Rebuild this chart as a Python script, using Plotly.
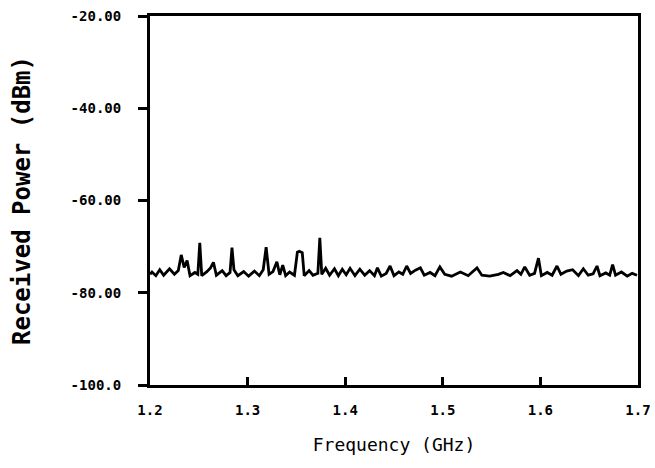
import plotly.graph_objects as go

# Frequency (GHz) and received power (dBm)
freq_ghz = [
    1.200, 1.202, 1.206, 1.210, 1.214, 1.220, 1.225, 1.229, 1.232, 1.235, 1.238, 1.241,
    1.246, 1.249, 1.251, 1.253, 1.258, 1.262, 1.265, 1.268, 1.274, 1.278, 1.282, 1.284,
    1.286, 1.290, 1.296, 1.301, 1.307, 1.312, 1.316, 1.319, 1.322, 1.326, 1.330, 1.333,
    1.336, 1.339, 1.343, 1.348, 1.351, 1.353, 1.356, 1.358, 1.363, 1.367, 1.372, 1.374,
    1.376, 1.380, 1.384, 1.389, 1.393, 1.397, 1.401, 1.405, 1.410, 1.415, 1.420, 1.425,
    1.430, 1.433, 1.437, 1.442, 1.446, 1.450, 1.455, 1.459, 1.463, 1.467, 1.472, 1.477,
    1.481, 1.487, 1.492, 1.497, 1.502, 1.509, 1.518, 1.526, 1.535, 1.540, 1.548, 1.557,
    1.562, 1.569, 1.576, 1.580, 1.584, 1.589, 1.594, 1.598, 1.601, 1.607, 1.612, 1.617,
    1.621, 1.627, 1.633, 1.639, 1.644, 1.649, 1.654, 1.658, 1.661, 1.667, 1.671, 1.674,
    1.677, 1.683, 1.689, 1.694, 1.699,
]
power_dbm = [
    -76.0, -75.5, -76.3, -75.0, -76.2, -74.8, -76.0, -75.2, -71.8, -74.5, -73.0, -76.3,
    -75.6, -76.0, -69.2, -76.3, -75.5, -74.6, -73.4, -76.2, -75.2, -76.3, -75.6, -70.2,
    -75.0, -76.3, -75.4, -76.4, -75.3, -76.3, -75.0, -70.1, -76.0, -75.4, -73.3, -76.1,
    -74.0, -76.3, -75.5, -76.2, -71.2, -71.0, -71.3, -76.3, -75.2, -76.2, -75.8, -68.1,
    -76.0, -74.7, -76.2, -74.8, -76.3, -74.9, -76.1, -74.7, -76.3, -74.9, -76.2, -75.2,
    -76.3, -74.6, -76.4, -75.8, -74.2, -76.3, -75.5, -76.0, -74.2, -75.8, -75.1, -74.6,
    -76.2, -75.6, -76.3, -74.4, -76.0, -76.4, -75.5, -76.3, -74.6, -76.2, -76.4, -76.0,
    -75.6, -76.3, -75.2, -76.0, -74.4, -76.2, -75.8, -72.5, -76.3, -75.6, -76.2, -74.2,
    -76.0, -75.3, -75.0, -76.3, -74.8, -76.2, -75.9, -74.2, -76.3, -75.7, -76.2, -73.9,
    -76.2, -75.5, -76.4, -75.8, -76.2,
]

x_ticks = [1.2, 1.3, 1.4, 1.5, 1.6, 1.7]
x_tick_labels = ["1.2", "1.3", "1.4", "1.5", "1.6", "1.7"]
y_ticks = [-100, -80, -60, -40, -20]
y_tick_labels = ["-100.0", "-80.00", "-60.00", "-40.00", "-20.00"]

fig = go.Figure()
fig.add_trace(go.Scatter(
    x=freq_ghz, y=power_dbm, mode="lines",
    line=dict(color="black", width=2.8),
    showlegend=False,
))

mono = "DejaVu Sans Mono"
fig.update_layout(
    width=655, height=468,
    margin=dict(l=150, r=17, t=16, b=83),
    paper_bgcolor="white", plot_bgcolor="white",
    font=dict(family=mono, color="black"),
)
fig.update_xaxes(
    range=[1.2, 1.7], tickvals=x_ticks, ticktext=x_tick_labels,
    ticks="inside", ticklen=8, tickwidth=2.5, tickcolor="black",
    showline=True, linewidth=3, linecolor="black", mirror=True,
    showgrid=False, zeroline=False, automargin=False,
    tickfont=dict(family=mono, size=14, weight="bold"),
    ticklabelstandoff=10,
    title=dict(text="Frequency (GHz)", font=dict(family=mono, size=18), standoff=22),
)
fig.update_yaxes(
    range=[-100, -20], tickvals=y_ticks, ticktext=y_tick_labels,
    ticks="outside", ticklen=9, tickwidth=2.5, tickcolor="black",
    showline=True, linewidth=3, linecolor="black", mirror=True,
    showgrid=False, zeroline=False, automargin=False,
    tickfont=dict(family=mono, size=14, weight="bold"),
    ticklabelstandoff=14,
    title=dict(text="Received Power (dBm)", font=dict(family=mono, size=24, weight="bold"), standoff=34),
)

fig.write_html(
    "out.html",
    config={"displayModeBar": False},
    post_script="document.body.style.margin='0px'; document.body.style.overflow='hidden';",
)
